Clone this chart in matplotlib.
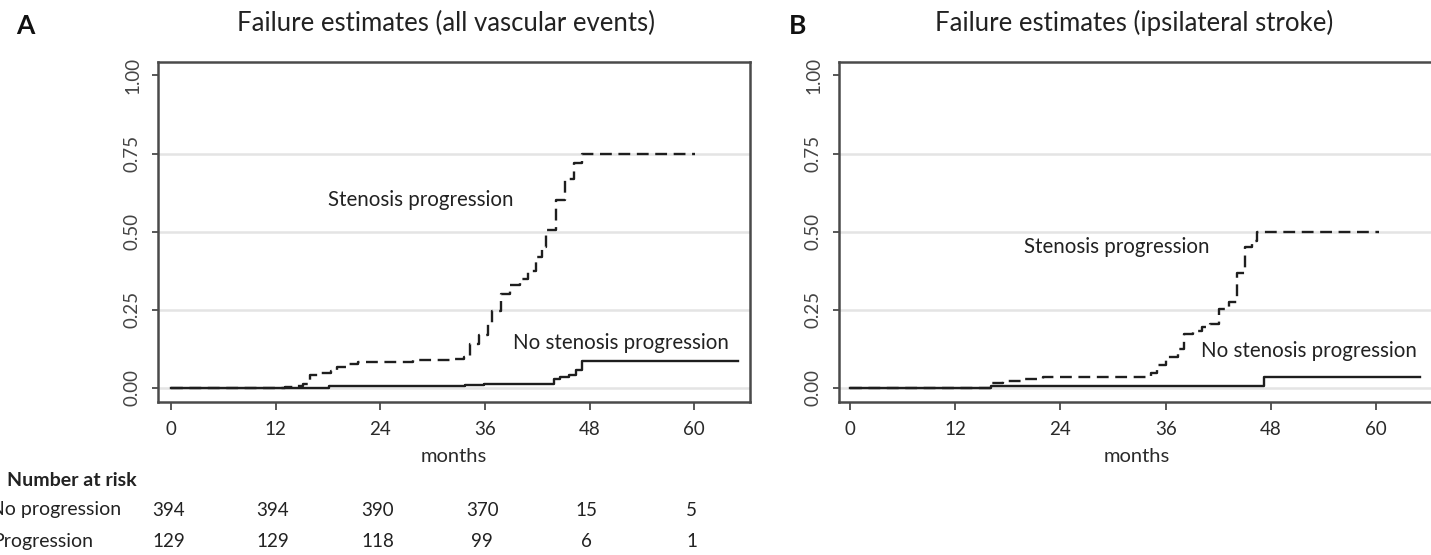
import matplotlib
matplotlib.use("Agg")
from matplotlib import pyplot as plt
from matplotlib import transforms

plt.rcParams["font.family"] = ["Lato", "DejaVu Sans"]

# Panel A: all vascular events (step-curve change points, cumulative failure)
a_prog_t = [0, 13.1, 14.4, 15.2, 16.0, 17.1, 18.3, 19.0, 20.2, 21.5, 27.7, 32.0, 33.6, 34.3, 35.3, 36.4,
            36.8, 37.9, 38.9, 40.0, 40.9, 41.9, 42.6, 43.0, 44.1, 45.2, 46.2, 47.1, 60.1]
a_prog_f = [0, 0.003, 0.007, 0.012, 0.040, 0.047, 0.055, 0.066, 0.077, 0.083, 0.088, 0.093, 0.100, 0.140,
            0.170, 0.205, 0.245, 0.300, 0.330, 0.350, 0.375, 0.420, 0.450, 0.505, 0.600, 0.670, 0.720, 0.750, 0.750]
a_noprog_t = [0, 18.1, 33.7, 35.9, 43.9, 44.6, 45.6, 46.4, 47.1, 65.0]
a_noprog_f = [0, 0.005, 0.008, 0.013, 0.029, 0.034, 0.040, 0.056, 0.085, 0.085]

# Panel B: ipsilateral stroke
b_prog_t = [0, 16.1, 17.5, 19.5, 22.0, 34.3, 35.0, 36.0, 37.4, 38.1, 39.1, 40.2, 41.1, 42.1, 43.2, 44.1,
            45.1, 45.9, 46.4, 60.3]
b_prog_f = [0, 0.015, 0.022, 0.030, 0.034, 0.048, 0.075, 0.100, 0.124, 0.173, 0.183, 0.194, 0.205, 0.254,
            0.276, 0.368, 0.450, 0.471, 0.500, 0.500]
b_noprog_t = [0, 16.1, 47.2, 65.0]
b_noprog_f = [0, 0.006, 0.036, 0.036]

month_ticks = [0, 12, 24, 36, 48, 60]
y_ticks = [0, 0.25, 0.5, 0.75, 1.0]
y_ticklabels = ["0.00", "0.25", "0.50", "0.75", "1.00"]
grid_levels = [0, 0.25, 0.5, 0.75]

risk_rows = ["No progression", "Progression"]
risk_noprog = [394, 394, 390, 370, 15, 5]
risk_prog = [129, 129, 118, 99, 6, 1]

W, H = 1431, 555
fig = plt.figure(figsize=(W / 100, H / 100), dpi=100)

line_col = "#1e1e1e"
box_col = "#4a4a4a"
txt_col = "#222222"


def setup_axes(rect, xlim, title, letter, title_x, letter_x):
    ax = fig.add_axes(rect)
    ax.set_xlim(*xlim)
    ax.set_ylim(-0.044, 1.044)
    for lvl in grid_levels:
        ax.axhline(lvl, color="#e4e4e4", lw=1.8, zorder=0)
    for s in ax.spines.values():
        s.set_color(box_col)
        s.set_linewidth(1.8)
    ax.set_xticks(month_ticks)
    ax.set_yticks(y_ticks)
    ax.set_yticklabels(y_ticklabels, rotation=90, va="center")
    ax.tick_params(axis="x", length=6, width=1.3, color=box_col, pad=8, labelsize=13.5, labelcolor="#2a2a2a")
    ax.tick_params(axis="y", length=4.5, width=1.3, color=box_col, pad=8, labelsize=13.5, labelcolor="#444444")
    ax.set_xlabel("months", fontsize=14.5, color="#2a2a2a", labelpad=7)
    fig.text(title_x / W, 1 - 23 / H, title, ha="center", va="center", fontsize=18.5, color=txt_col)
    fig.text(letter_x / W, 1 - 26 / H, letter, ha="center", va="center", fontsize=19, fontweight="bold",
             color="#111111")
    return ax


ax_a = setup_axes([158.3 / W, 1 - 401.7 / H, (750 - 158.3) / W, 340 / H], (-1.45, 66.4),
                  "Failure estimates (all vascular events)", "A", 446, 25)
ax_a.step(a_prog_t, a_prog_f, where="post", color=line_col, lw=1.7, ls=(0, (5, 2.8)))
ax_a.step(a_noprog_t, a_noprog_f, where="post", color=line_col, lw=1.7)
ax_a.text(28.7, 0.60, "Stenosis progression", ha="center", va="center", fontsize=14.8, color=txt_col)
ax_a.text(51.6, 0.145, "No stenosis progression", ha="center", va="center", fontsize=14.8, color=txt_col)

ax_b = setup_axes([839.3 / W, 1 - 401.7 / H, (1434 - 839.3) / W, 340 / H], (-1.2, 66.6),
                  "Failure estimates (ipsilateral stroke)", "B", 1134, 798)
ax_b.step(b_prog_t, b_prog_f, where="post", color=line_col, lw=1.7, ls=(0, (5, 2.8)))
ax_b.step(b_noprog_t, b_noprog_f, where="post", color=line_col, lw=1.7)
ax_b.text(30.4, 0.45, "Stenosis progression", ha="center", va="center", fontsize=14.8, color=txt_col)
ax_b.text(52.3, 0.117, "No stenosis progression", ha="center", va="center", fontsize=14.8, color=txt_col)

# number at risk table under panel A (row labels run off the left edge, as in the source figure)
fig.text(7 / W, 1 - 480 / H, "Number at risk", ha="left", va="center", fontsize=14, fontweight="bold",
         color=txt_col)
row_y = [510, 541.7]
row_end = [121, 93]
blend = transforms.blended_transform_factory(ax_a.transData, fig.transFigure)
for label, counts, y, xe in zip(risk_rows, [risk_noprog, risk_prog], row_y, row_end):
    fig.text(xe / W, 1 - y / H, label, ha="right", va="center", fontsize=14, color=txt_col)
    for m, n in zip(month_ticks, counts):
        ax_a.text(m - 0.3, 1 - y / H, str(n), transform=blend, ha="center", va="center", fontsize=13.5,
                  color=txt_col)

fig.savefig("out.png", dpi=100)
